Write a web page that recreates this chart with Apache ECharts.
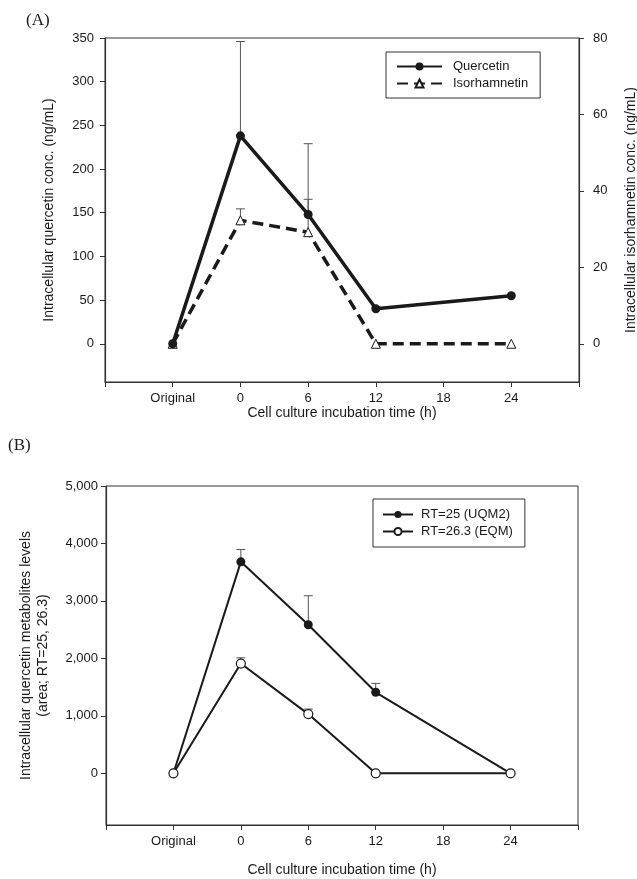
<!DOCTYPE html>
<html>
<head>
<meta charset="utf-8">
<script src="https://cdn.jsdelivr.net/npm/echarts@6/dist/echarts.min.js"></script>
<style>
  html, body { margin: 0; padding: 0; background: #fff; }
  #chart { width: 637px; height: 879px; }
</style>
</head>
<body>
<div id="chart"></div>
<script>
// x positions: -6 stands for "Original", the rest are hours
const timePoints = [-6, 0, 6, 12, 24];

// panel A
const quercetin = [0, 238, 148, 40, 55];
const quercetinErr = [0, 108, 81, 2, 0];
const isorhamnetin = [0, 32.3, 29.2, 0, 0];
const isorhamnetinErr = [0, 3, 8.6, 0, 0];

// panel B
const rt25 = [0, 3680, 2585, 1410, 0];
const rt25Err = [0, 215, 505, 155, 0];
const rt263 = [0, 1910, 1030, 0, 0];
const rt263Err = [0, 100, 88, 0, 0];

const leftTicksA = [0, 50, 100, 150, 200, 250, 300, 350];
const rightTicksA = [0, 20, 40, 60, 80];
const leftTicksB = [0, 1000, 2000, 3000, 4000, 5000];

const FONT = "'Liberation Sans', Arial, sans-serif";
const INK = '#1a1a1a';
const AXIS = '#333';

const pairs = (ys) => timePoints.map((x, i) => [x, ys[i]]);
const errPairs = (ys, es) => timePoints.map((x, i) => [x, ys[i], es[i]]).filter(d => d[2] > 0);

// vertical error bar with a small cap on top
const errorBar = (params, api) => {
  const x = api.value(0);
  const y = api.value(1);
  const e = api.value(2);
  const p0 = api.coord([x, y]);
  const p1 = api.coord([x, y + e]);
  const style = { stroke: '#555', lineWidth: 1 };
  return {
    type: 'group',
    children: [
      { type: 'line', shape: { x1: p0[0], y1: p0[1], x2: p1[0], y2: p1[1] }, style },
      { type: 'line', shape: { x1: p1[0] - 4.5, y1: p1[1], x2: p1[0] + 4.5, y2: p1[1] }, style }
    ]
  };
};

const xLabel = (v) => {
  if (v === -6) return 'Original';
  if (v === -12 || v === 30) return '';
  return String(v);
};

const xAxisBase = (gridIndex, gap) => ({
  type: 'value',
  gridIndex,
  min: -12,
  max: 30,
  interval: 6,
  name: 'Cell culture incubation time (h)',
  nameLocation: 'middle',
  nameGap: gap,
  nameTextStyle: { fontFamily: FONT, fontSize: 14, color: INK },
  axisLine: { onZero: false, lineStyle: { color: AXIS, width: 1.2 } },
  axisTick: { length: 5, lineStyle: { color: AXIS } },
  axisLabel: { formatter: xLabel, fontFamily: FONT, fontSize: 13, color: INK, margin: 10 },
  splitLine: { show: false }
});

const yAxisBase = (gridIndex, position, min, max, ticks, name, gap, margin) => ({
  type: 'value',
  gridIndex,
  position,
  min,
  max,
  name,
  nameLocation: 'middle',
  nameGap: gap,
  nameTextStyle: { fontFamily: FONT, fontSize: 14, color: INK, lineHeight: 17 },
  axisLine: { show: true, onZero: false, lineStyle: { color: AXIS, width: 1.2 } },
  axisTick: { show: true, length: 5, customValues: ticks, lineStyle: { color: AXIS } },
  axisLabel: {
    customValues: ticks,
    formatter: (v) => v.toLocaleString('en-US'),
    fontFamily: FONT, fontSize: 13, color: INK, margin
  },
  splitLine: { show: false }
});

const chart = echarts.init(document.getElementById('chart'));

const option = {
  backgroundColor: '#fff',
  animation: false,
  grid: [
    { left: 105, right: 58, top: 38, height: 344, show: true, borderColor: AXIS, borderWidth: 1, outerBoundsMode: 'none', containLabel: false },
    { left: 106, right: 59, top: 486, height: 339, show: true, borderColor: AXIS, borderWidth: 1, outerBoundsMode: 'none', containLabel: false }
  ],
  xAxis: [xAxisBase(0, 24), xAxisBase(1, 38)],
  yAxis: [
    yAxisBase(0, 'left', -43.75, 350, leftTicksA, 'Intracellular quercetin conc. (ng/mL)', 47, 11),
    yAxisBase(0, 'right', -10, 80, rightTicksA, 'Intracellular isorhamnetin conc. (ng/mL)', 44, 14),
    yAxisBase(1, 'left', -900, 5000, leftTicksB,
      'Intracellular quercetin metabolites levels\n(area; RT=25, 26.3)', 54, 8)
  ],
  legend: [
    {
      data: ['Quercetin', 'Isorhamnetin'],
      orient: 'vertical',
      left: 386,
      top: 52,
      padding: [8, 12, 8, 10],
      itemWidth: 45,
      itemHeight: 10,
      itemGap: 4,
      borderColor: AXIS,
      borderWidth: 1,
      textStyle: { fontFamily: FONT, fontSize: 13, color: INK, padding: [0, 0, 0, 6] }
    },
    {
      data: ['RT=25 (UQM2)', 'RT=26.3 (EQM)'],
      orient: 'vertical',
      left: 373,
      top: 499,
      padding: [9, 12, 9, 9],
      itemWidth: 30,
      itemHeight: 9,
      itemGap: 4,
      borderColor: AXIS,
      borderWidth: 1,
      textStyle: { fontFamily: FONT, fontSize: 13, color: INK, padding: [0, 0, 0, 3] }
    }
  ],
  graphic: [
    { type: 'text', left: 26, top: 12, style: { text: '(A)', font: '17px "Liberation Serif", "Times New Roman", serif', fill: INK } },
    { type: 'text', left: 8, top: 437, style: { text: '(B)', font: '17px "Liberation Serif", "Times New Roman", serif', fill: INK } }
  ],
  series: [
    {
      type: 'custom',
      xAxisIndex: 0, yAxisIndex: 0,
      renderItem: errorBar,
      data: errPairs(quercetin, quercetinErr),
      z: 1
    },
    {
      type: 'custom',
      xAxisIndex: 0, yAxisIndex: 1,
      renderItem: errorBar,
      data: errPairs(isorhamnetin, isorhamnetinErr),
      z: 1
    },
    {
      name: 'Quercetin',
      type: 'line',
      xAxisIndex: 0, yAxisIndex: 0,
      data: pairs(quercetin),
      symbol: 'circle',
      symbolSize: 9,
      itemStyle: { color: INK },
      lineStyle: { color: INK, width: 3.5 },
      z: 3
    },
    {
      name: 'Isorhamnetin',
      type: 'line',
      xAxisIndex: 0, yAxisIndex: 1,
      data: pairs(isorhamnetin),
      symbol: 'triangle',
      symbolSize: 9,
      showAllSymbol: true,
      itemStyle: { color: '#fff', borderColor: INK, borderWidth: 1 },
      lineStyle: { color: INK, width: 3.5, type: [11, 6] },
      z: 2
    },
    {
      type: 'custom',
      xAxisIndex: 1, yAxisIndex: 2,
      renderItem: errorBar,
      data: errPairs(rt25, rt25Err),
      z: 1
    },
    {
      type: 'custom',
      xAxisIndex: 1, yAxisIndex: 2,
      renderItem: errorBar,
      data: errPairs(rt263, rt263Err),
      z: 1
    },
    {
      name: 'RT=25 (UQM2)',
      type: 'line',
      xAxisIndex: 1, yAxisIndex: 2,
      data: pairs(rt25),
      symbol: 'circle',
      symbolSize: 9,
      itemStyle: { color: INK },
      lineStyle: { color: INK, width: 2 },
      z: 2
    },
    {
      name: 'RT=26.3 (EQM)',
      type: 'line',
      xAxisIndex: 1, yAxisIndex: 2,
      data: pairs(rt263),
      symbol: 'circle',
      symbolSize: 9,
      itemStyle: { color: '#fff', borderColor: INK, borderWidth: 1.2 },
      lineStyle: { color: INK, width: 2 },
      z: 3
    }
  ]
};

chart.setOption(option);
</script>
</body>
</html>
